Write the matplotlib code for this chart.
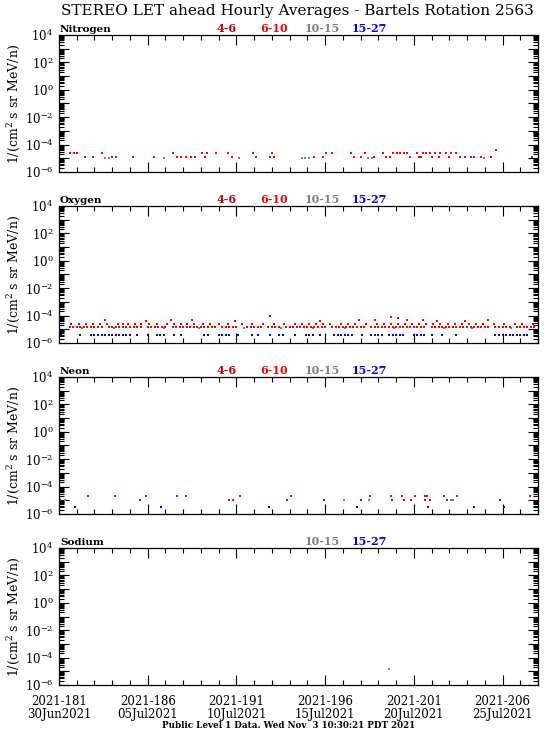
import matplotlib
matplotlib.use("Agg")
import matplotlib.pyplot as plt
from matplotlib.ticker import FixedLocator, FixedFormatter, LogLocator, NullFormatter, MultipleLocator

plt.rcParams["font.family"] = ["DejaVu Serif"]
plt.rcParams["mathtext.fontset"] = "dejavuserif"

DARKRED = "#c00000"
RED = "#ff0000"
GRAY = "#808080"
BLUE = "#0000ff"

title = "STEREO LET ahead Hourly Averages - Bartels Rotation 2563"
footer = "Public Level 1 Data. Wed Nov  3 10:30:21 PDT 2021"
ylabel = "1/(cm$^2$ s sr MeV/n)"

day_ticks = [181, 186, 191, 196, 201, 206]
day_labels = ["2021-181\n30Jun2021", "2021-186\n05Jul2021", "2021-191\n10Jul2021",
              "2021-196\n15Jul2021", "2021-201\n20Jul2021", "2021-206\n25Jul2021"]
x_range = (181.0, 208.0)

flux_ticks = [1e-6, 1e-5, 1e-4, 1e-3, 1e-2, 1e-1, 1e0, 1e1, 1e2, 1e3, 1e4]
flux_labels = ["$10^{-6}$", "", "$10^{-4}$", "", "$10^{-2}$", "", "$10^{0}$", "",
               "$10^{2}$", "", "$10^{4}$"]

# ---- Nitrogen ----
nit_610_hi_days = [181.63, 181.83, 182.03, 183.41, 187.43, 189.05, 189.34, 189.84, 190.53,
                   191.91, 193.0, 196.07, 196.37, 197.45, 198.24, 199.24, 199.83, 200.03,
                   200.23, 200.43, 200.62, 201.2, 201.5, 201.7, 201.9, 202.2, 202.5, 202.8,
                   203.1, 203.4, 205.66]
nit_610_hi_flux = [2.5e-5] * 30 + [4e-5]
nit_610_lo_days = [182.46, 182.92, 184.0, 184.2, 185.15, 186.38, 187.66, 187.86, 188.16,
                   188.45, 188.65, 189.25, 190.73, 192.11, 192.9, 193.1, 195.38, 195.87,
                   197.65, 198.05, 198.74, 199.43, 199.63, 200.8, 201.3, 201.4, 202.0,
                   202.4, 203.0, 203.6, 203.9, 204.2, 204.4, 204.77, 205.36, 207.64]
nit_610_lo_flux = 1.2e-5
nit_1015_days = [183.61, 183.8, 186.93, 191.12, 194.69, 194.88, 195.08, 198.44, 198.64, 204.97]
nit_1015_flux = 1.1e-5

# ---- Oxygen ----
ox_610_lo_days = [181.6, 181.8, 182.0, 182.2, 182.4, 182.6, 182.8, 183.0, 183.2, 183.4,
                  183.8, 184.0, 184.2, 184.4, 184.6, 184.8, 185.0, 185.2, 185.4, 185.6,
                  186.0, 186.2, 186.4, 186.6, 186.8, 187.0,
                  187.4, 187.6, 187.8, 188.0, 188.2, 188.4, 188.6, 188.8, 189.0, 189.2, 189.4,
                  189.6, 189.8, 190.2, 190.4, 190.6, 190.8, 191.0,
                  191.6, 191.8, 192.0, 192.2, 192.4, 192.8, 193.0, 193.2, 193.4,
                  193.8, 194.0, 194.2, 194.4, 194.6, 194.8, 195.0, 195.2, 195.4, 195.6, 195.8,
                  196.0, 196.4, 196.6, 196.8, 197.0, 197.2, 197.4, 197.6, 197.8, 198.0, 198.2,
                  198.6, 198.8, 199.0, 199.2, 199.4, 199.6, 199.8, 200.0, 200.2, 200.4, 200.6,
                  200.8, 201.0, 201.2, 201.4, 201.6,
                  202.0, 202.2, 202.4, 202.6, 202.8, 203.0, 203.2, 203.4, 203.6, 203.8, 204.0,
                  204.2, 204.4, 204.6, 204.8, 205.0, 205.2,
                  205.6, 205.8, 206.0, 206.2, 206.4,
                  206.8, 207.0, 207.2, 207.4, 207.6, 207.8]
ox_610_lo_flux = 1.5e-5
ox_610_hi_days = [181.7, 182.1, 182.5, 182.9, 183.3, 183.7, 184.3, 184.6, 184.9, 185.3, 185.6,
                  186.1, 186.5, 187.1, 187.5, 187.9, 188.2, 188.6, 189.1, 189.5, 190.0, 190.5,
                  191.3, 191.9, 192.5, 193.1, 193.7, 194.3, 194.7, 195.1, 195.5, 195.9, 196.3,
                  196.9, 197.3, 197.7, 198.3, 198.9, 199.3, 199.7, 200.1, 200.5, 200.9, 201.3,
                  201.7, 202.1, 202.5, 202.9, 203.3, 203.7, 204.1, 204.5, 204.9, 205.5, 206.1,
                  206.7, 207.1, 207.7]
ox_610_hi_flux = 2.4e-5
ox_610_peak_days = [183.6, 185.9, 187.3, 188.5, 190.9, 192.9, 195.7, 197.9, 198.8, 199.7,
                    200.1, 200.6, 201.5, 202.3, 203.9, 205.2]
ox_610_peak_flux = [4.5e-5, 4e-5, 5e-5, 4.5e-5, 4e-5, 1.0e-4, 4e-5, 5e-5, 4.5e-5, 8e-5,
                    7e-5, 5e-5, 4.5e-5, 4e-5, 4e-5, 4.5e-5]
ox_1015_days = [182.3, 184.1, 186.9, 188.9, 191.4, 193.5, 195.3, 197.1, 199.9, 202.7, 204.3, 206.5]
ox_1015_flux = 1.2e-5
ox_1527_days = [181.1, 182.2,
                182.8, 183.0, 183.2, 183.4, 183.6, 183.8, 184.0, 184.2, 184.4, 184.6, 184.8, 185.0,
                185.4, 186.0, 186.5, 186.7, 186.9, 187.5, 187.9, 189.2, 189.4,
                190.0, 190.2, 190.4, 190.6, 191.1, 191.9, 192.2, 192.9, 193.4, 193.6, 194.3,
                194.9, 195.1, 195.3, 195.7,
                196.5, 196.7, 196.9, 197.1, 197.3, 197.5, 198.1,
                198.6, 198.8, 199.0, 199.2, 199.6, 199.8, 200.0, 200.2, 200.4,
                201.0, 201.2, 201.4, 201.6, 202.0, 202.6, 203.4,
                205.6, 205.8, 206.0, 206.2, 206.4, 206.6, 206.8, 207.0, 207.2, 207.4]
ox_1527_flux = 3.8e-6

# ---- Neon ----
ne_610_hi_days = [182.62, 184.16, 185.88, 187.66, 188.16, 191.18, 194.09, 198.54, 199.69,
                  200.32, 201.07, 201.65, 201.75, 202.7, 203.43, 207.54]
ne_610_hi_flux = 2.0e-5
ne_610_lo_days = [181.05, 185.59, 190.57, 190.83, 193.85, 195.96, 198.0, 199.78, 200.46,
                  200.86, 201.65, 201.9, 202.89, 205.86]
ne_610_lo_flux = 1.0e-5
ne_1015_days = [181.33, 197.06, 198.5, 203.09, 203.23]
ne_1015_flux = 1.0e-5
ne_1527_days = [181.93, 186.77, 192.86, 197.81, 201.8, 204.38, 206.06]
ne_1527_flux = 3.2e-6

# ---- Sodium ----
na_1015_days = [199.6]
na_1015_flux = 1.5e-5


def as_list(flux, days):
    if isinstance(flux, list):
        return flux
    return [flux] * len(days)


def dots(ax, days, flux, color):
    ax.plot(days, as_list(flux, days), linestyle="none", marker="s", ms=1.6,
            mew=0, color=color)


def style_axis(ax, name, legend_items, show_x):
    ax.set_yscale("log")
    ax.set_ylim(1e-6, 1e4)
    ax.set_xlim(*x_range)
    ax.yaxis.set_major_locator(FixedLocator(flux_ticks))
    ax.yaxis.set_major_formatter(FixedFormatter(flux_labels))
    ax.yaxis.set_minor_locator(LogLocator(base=10, subs=range(2, 10), numticks=30))
    ax.yaxis.set_minor_formatter(NullFormatter())
    ax.xaxis.set_major_locator(FixedLocator(day_ticks))
    ax.xaxis.set_minor_locator(MultipleLocator(1))
    ax.tick_params(which="both", direction="in", top=True, right=True, width=0.8)
    ax.tick_params(which="major", length=7)
    ax.tick_params(which="minor", length=3.5)
    ax.tick_params(axis="y", labelsize=8.5, pad=4)
    if show_x:
        ax.set_xticklabels(day_labels, linespacing=1.0)
        ax.tick_params(axis="x", labelsize=8.5, pad=7.5)
    else:
        ax.tick_params(axis="x", labelbottom=False)
    for sp in ax.spines.values():
        sp.set_linewidth(0.9)
    ax.set_ylabel(ylabel, fontsize=9)
    ax.yaxis.set_label_coords(-0.078, 0.5)
    ax.text(0.002, 1.008, name, transform=ax.transAxes, ha="left", va="bottom",
            fontsize=7.5, fontweight="bold")
    for label, xpos, color in legend_items:
        ax.text(xpos, 1.008, label, transform=ax.transAxes, ha="center", va="bottom",
                fontsize=8, fontweight="bold", color=color)


legend_all = [("4-6", 0.349, DARKRED), ("6-10", 0.449, RED),
              ("10-15", 0.549, GRAY), ("15-27", 0.649, BLUE)]
legend_na = [("10-15", 0.549, GRAY), ("15-27", 0.649, BLUE)]

W, H = 550, 733
fig = plt.figure(figsize=(W / 100, H / 100), dpi=100)
left, width, height = 59, 479, 137
tops = [35, 206, 377, 548]
axes = [fig.add_axes([left / W, 1 - (t + height) / H, width / W, height / H]) for t in tops]

ax = axes[0]
dots(ax, nit_1015_days, nit_1015_flux, GRAY)
dots(ax, nit_610_lo_days, nit_610_lo_flux, RED)
dots(ax, nit_610_hi_days, nit_610_hi_flux, RED)
style_axis(ax, "Nitrogen", legend_all, False)

ax = axes[1]
dots(ax, ox_1527_days, ox_1527_flux, BLUE)
dots(ax, ox_1015_days, ox_1015_flux, GRAY)
dots(ax, ox_610_lo_days, ox_610_lo_flux, RED)
dots(ax, ox_610_hi_days, ox_610_hi_flux, RED)
dots(ax, ox_610_peak_days, ox_610_peak_flux, RED)
style_axis(ax, "Oxygen", legend_all, False)

ax = axes[2]
dots(ax, ne_1527_days, ne_1527_flux, BLUE)
dots(ax, ne_1015_days, ne_1015_flux, GRAY)
dots(ax, ne_610_lo_days, ne_610_lo_flux, RED)
dots(ax, ne_610_hi_days, ne_610_hi_flux, RED)
style_axis(ax, "Neon", legend_all, False)

ax = axes[3]
dots(ax, na_1015_days, na_1015_flux, GRAY)
style_axis(ax, "Sodium", legend_na, True)

fig.text(297 / W, 1 - 11 / H, title, ha="center", va="center", fontsize=11)
fig.text(289 / W, 1 - 726 / H, footer, ha="center", va="center", fontsize=6.3,
         fontweight="bold")

fig.savefig("out.png", dpi=100)
